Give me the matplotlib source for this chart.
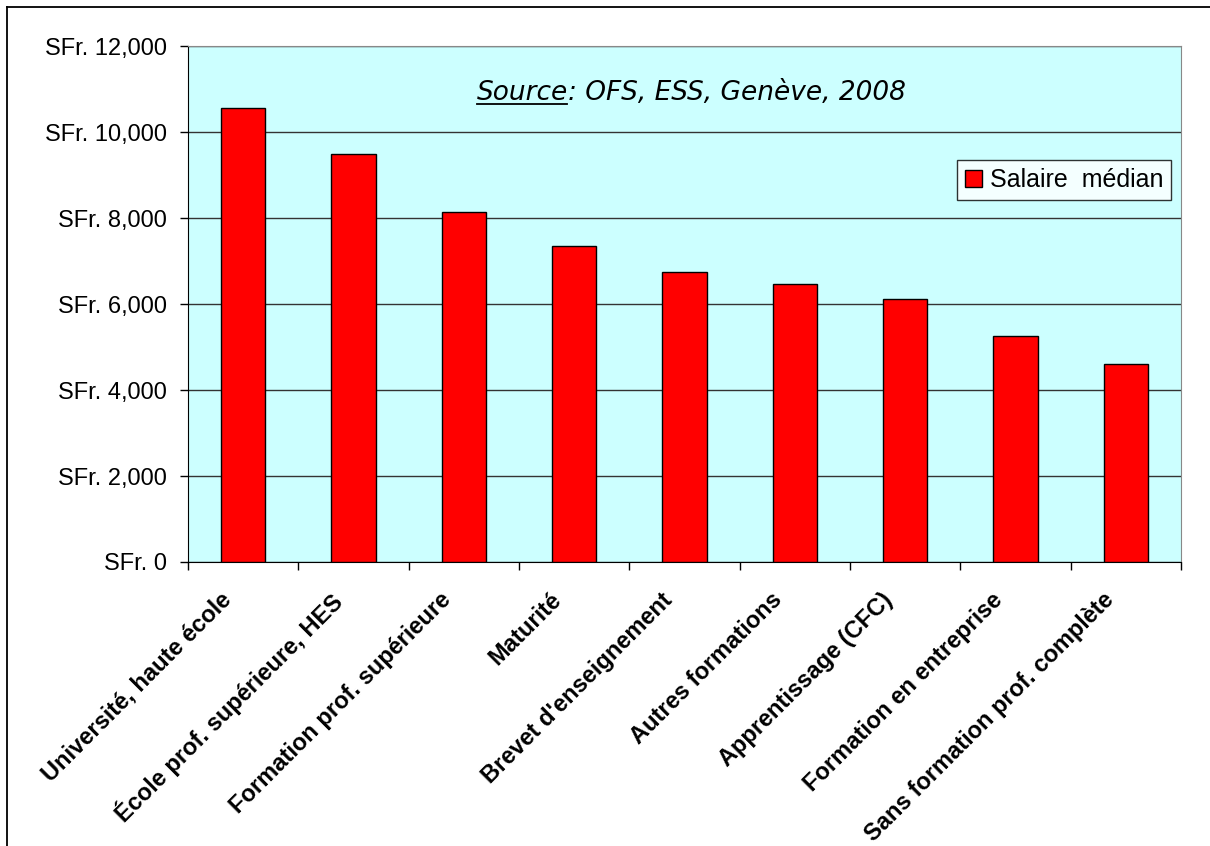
import matplotlib
matplotlib.use("Agg")
import matplotlib.pyplot as plt
from matplotlib.lines import Line2D
from matplotlib.ticker import FuncFormatter, MultipleLocator
import matplotlib.transforms as mtransforms
import numpy as np

# median monthly salary by education level
categories = ["Université, haute école", "École prof. supérieure, HES",
              "Formation prof. supérieure", "Maturité", "Brevet d'enseignement",
              "Autres formations", "Apprentissage (CFC)", "Formation en entreprise",
              "Sans formation prof. complète"]
salaire = [10560, 9490, 8140, 7355, 6735, 6455, 6125, 5265, 4605]

plt.rcParams['font.family'] = ['Liberation Sans', 'DejaVu Sans']

fig = plt.figure(figsize=(12.1, 8.46), dpi=100)
ax = fig.add_axes([188/1210, 1 - 562/846, (1181-188)/1210, (562-46)/846])
ax.set_facecolor("#CCFFFF")

x = np.arange(len(categories))
ax.bar(x, salaire, width=0.4, color="#FF0000", edgecolor="black", linewidth=1,
       label="Salaire  médian", zorder=3)

ax.set_xlim(-0.5, len(categories) - 0.5)
ax.set_ylim(0, 12000)
ax.yaxis.set_major_locator(MultipleLocator(2000))
ax.yaxis.set_major_formatter(FuncFormatter(lambda v, p: f"SFr. {v:,.0f}"))
ax.grid(axis="y", color="#333333", linewidth=1, zorder=1)

# tick marks between categories, labels under the bars
ax.set_xticks(np.arange(len(categories) + 1) - 0.5)
ax.set_xticklabels([])
ax.set_xticks(x, minor=True)
ax.set_xticklabels(categories, minor=True, rotation=45, ha="right",
                   rotation_mode="anchor", fontsize=17, fontweight="bold")
ax.tick_params(axis="x", which="minor", length=0, pad=19)
ax.tick_params(axis="x", which="major", length=6, width=1)
ax.tick_params(axis="y", length=6, width=1, pad=9, labelsize=17)

shift = mtransforms.ScaledTranslation(-24/100, 0, fig.dpi_scale_trans)
for lab in ax.get_xticklabels(minor=True):
    lab.set_transform(lab.get_transform() + shift)

for s in ["top", "right"]:
    ax.spines[s].set_color("#888888")
for s in ["left", "bottom"]:
    ax.spines[s].set_color("black")

leg = ax.legend(loc="upper right", bbox_to_anchor=(0.99, 0.779), fontsize=18,
                frameon=True, fancybox=False, edgecolor="black",
                handlelength=0.7, handleheight=0.7, handletextpad=0.3,
                borderpad=0.32, borderaxespad=0)
leg.get_frame().set_linewidth(1)

# source note with underlined "Source"
t1 = ax.text(0.2905, 0.909, "Source", transform=ax.transAxes, fontsize=19,
             style="italic", family="DejaVu Sans", va="center", ha="left")
t2 = ax.annotate(": OFS, ESS, Genève, 2008", xy=(1, 0.5), xycoords=t1,
                 fontsize=19, style="italic", family="DejaVu Sans",
                 va="center", ha="left")
fig.canvas.draw()
bb = t1.get_window_extent()
inv = fig.transFigure.inverted()
(x0, y0), (x1, y1) = inv.transform([(bb.x0 + 1, bb.y0 + 2), (bb.x1 - 1, bb.y0 + 2)])
fig.add_artist(Line2D([x0, x1], [y0, y1], color="black", linewidth=1.3))

# outer chart frame
fig.add_artist(Line2D([7/1210, 1], [1 - 7/846, 1 - 7/846], color="black", linewidth=1.3))
fig.add_artist(Line2D([7/1210, 7/1210], [1 - 7/846, 0], color="black", linewidth=1.3))

fig.savefig("out.png", dpi=100)
